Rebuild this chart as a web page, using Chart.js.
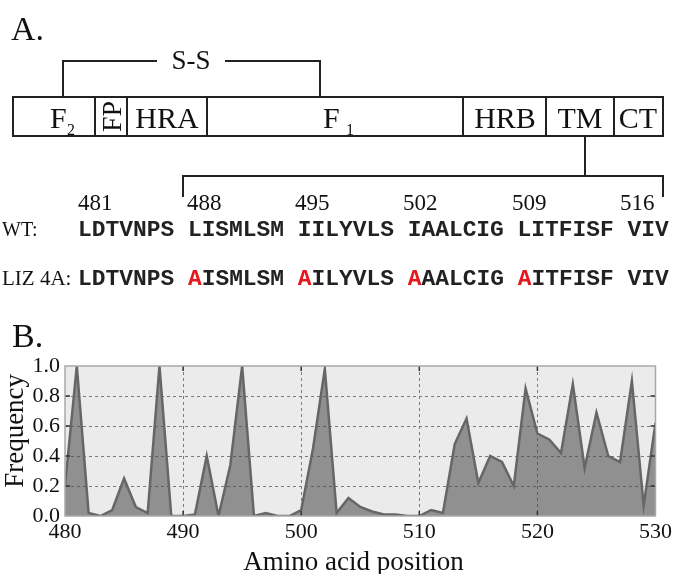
<!DOCTYPE html>
<html>
<head>
<meta charset="utf-8">
<script src="https://cdn.jsdelivr.net/npm/chart.js@4.4.1/dist/chart.umd.min.js"></script>
<style>
  html, body { margin: 0; padding: 0; background: #fff; }
  #wrap { position: relative; width: 675px; height: 574px; overflow: hidden; }
  #freqChart { position: absolute; left: 0; top: 300px; }
  #diagram { position: absolute; left: 0; top: 0; pointer-events: none; }
  .serif { font-family: "Liberation Serif", "Times New Roman", serif; }
  .mono { font-family: "Liberation Mono", "Courier New", monospace; font-weight: bold; white-space: pre; }
</style>
</head>
<body>
<div id="wrap">
  <canvas id="freqChart" width="675" height="274"></canvas>

  <!-- panel A: domain map + sequence -->
  <svg id="diagram" width="675" height="574" viewBox="0 0 675 574">
    <g class="serif" fill="#111">
      <text x="11" y="40" font-size="34">A.</text>
      <text x="12" y="347" font-size="34">B.</text>
      <text x="191" y="69" font-size="27" text-anchor="middle">S-S</text>
      <text x="50" y="128" font-size="30">F</text>
      <text x="67" y="135" font-size="16">2</text>
      <text transform="translate(121,116.5) rotate(-90)" font-size="28" text-anchor="middle">FP</text>
      <text x="167" y="128" font-size="30" text-anchor="middle">HRA</text>
      <text x="323" y="128" font-size="30">F</text>
      <text x="346" y="135" font-size="16">1</text>
      <text x="505" y="128" font-size="30" text-anchor="middle">HRB</text>
      <text x="580" y="128" font-size="30" text-anchor="middle">TM</text>
      <text x="638" y="128" font-size="30" text-anchor="middle">CT</text>
      <text x="78" y="210" font-size="23">481</text>
      <text x="187" y="210" font-size="23">488</text>
      <text x="295" y="210" font-size="23">495</text>
      <text x="403" y="210" font-size="23">502</text>
      <text x="512" y="210" font-size="23">509</text>
      <text x="620" y="210" font-size="23">516</text>
      <text x="2" y="236" font-size="20">WT:</text>
      <text x="2" y="285" font-size="21">LIZ 4A:</text>
    </g>
    <g fill="none" stroke="#222" stroke-width="2">
      <path d="M63,97V61H157M225,61H320V97"/>
      <rect x="13" y="97" width="650" height="39"/>
      <path d="M95,97V136M127,97V136M207,97V136M463,97V136M546,97V136M614,97V136"/>
      <path d="M585,136V176M183,197V176H663V197"/>
    </g>
    <g class="mono" font-size="22.9" fill="#222">
      <text x="78" y="236">LDTVNPS LISMLSM IILYVLS IAALCIG LITFISF VIV</text>
      <text x="78" y="285">LDTVNPS <tspan fill="#e3191f">A</tspan>ISMLSM <tspan fill="#e3191f">A</tspan>ILYVLS <tspan fill="#e3191f">A</tspan>AALCIG <tspan fill="#e3191f">A</tspan>ITFISF VIV</text>
    </g>
  </svg>
</div>

<script>
// amino acid positions and mutation frequency (panel B)
const positions = [480, 481, 482, 483, 484, 485, 486, 487, 488, 489,
                   490, 491, 492, 493, 494, 495, 496, 497, 498, 499,
                   500, 501, 502, 503, 504, 505, 506, 507, 508, 509,
                   510, 511, 512, 513, 514, 515, 516, 517, 518, 519,
                   520, 521, 522, 523, 524, 525, 526, 527, 528, 529, 530];
const frequency = [0.2, 1.0, 0.02, 0.0, 0.04, 0.25, 0.06, 0.02, 1.0, 0.0,
                   0.0, 0.01, 0.4, 0.0, 0.34, 1.0, 0.0, 0.02, 0.0, 0.0,
                   0.04, 0.45, 0.98, 0.02, 0.12, 0.06, 0.03, 0.01, 0.01, 0.0,
                   0.0, 0.04, 0.02, 0.48, 0.65, 0.22, 0.40, 0.36, 0.2, 0.85,
                   0.55, 0.51, 0.42, 0.88, 0.32, 0.69, 0.40, 0.36, 0.9, 0.07, 0.62];
const xTicks = [480, 490, 500, 510, 520, 530];
const yTicks = [0.0, 0.2, 0.4, 0.6, 0.8, 1.0];

const serif = '"Liberation Serif", "Times New Roman", serif';

// grey plot background, frame and inward tick marks
const plotFrame = {
  id: "plotFrame",
  beforeDraw(chart) {
    const { ctx, chartArea: a } = chart;
    ctx.save();
    ctx.fillStyle = "#ebebeb";
    ctx.fillRect(a.left, a.top, a.right - a.left, a.bottom - a.top);
    ctx.restore();
  },
  afterDatasetsDraw(chart) {
    const { ctx, chartArea: a, scales } = chart;
    ctx.save();
    ctx.strokeStyle = "#333";
    ctx.lineWidth = 1.5;
    ctx.beginPath();
    xTicks.forEach((v) => {
      const px = scales.x.getPixelForValue(v);
      if (px <= a.left + 1 || px >= a.right - 1) return;
      ctx.moveTo(px, a.bottom); ctx.lineTo(px, a.bottom - 5);
      ctx.moveTo(px, a.top); ctx.lineTo(px, a.top + 5);
    });
    yTicks.forEach((v) => {
      const py = scales.y.getPixelForValue(v);
      if (py <= a.top + 1 || py >= a.bottom - 1) return;
      ctx.moveTo(a.left, py); ctx.lineTo(a.left + 5, py);
      ctx.moveTo(a.right, py); ctx.lineTo(a.right - 5, py);
    });
    ctx.stroke();
    ctx.strokeStyle = "#a9a9a9";
    ctx.lineWidth = 1.5;
    ctx.strokeRect(a.left, a.top, a.right - a.left, a.bottom - a.top);
    ctx.restore();
  },
};

const data = {
  datasets: [
    {
      label: "Frequency",
      data: positions.map((p, i) => ({ x: p, y: frequency[i] })),
      borderColor: "#666",
      backgroundColor: "rgba(70, 70, 70, 0.55)",
      borderWidth: 2.5,
      fill: "origin",
      pointRadius: 0,
      tension: 0,
    },
  ],
};

const config = {
  type: "line",
  data,
  plugins: [plotFrame],
  options: {
    responsive: false,
    animation: false,
    layout: { padding: { top: 66, right: 17, left: 0, bottom: 0 } },
    plugins: { legend: { display: false }, tooltip: { enabled: false } },
    scales: {
      x: {
        type: "linear",
        min: 480,
        max: 530,
        afterBuildTicks: (s) => { s.ticks = xTicks.map((v) => ({ value: v })); },
        afterFit: (s) => { s.height = 58; },
        ticks: { color: "#111", padding: 3, maxRotation: 0, font: { family: serif, size: 22 } },
        grid: {
          drawTicks: false,
          color: (c) => (c.tick && (c.tick.value === 480 || c.tick.value === 530) ? "rgba(0,0,0,0)" : "#7a7a7a"),
        },
        border: { display: false, dash: [3, 3] },
        title: {
          display: true,
          text: "Amino acid position\u00a0\u00a0",
          color: "#111",
          padding: 0,
          font: { family: serif, size: 27, lineHeight: 0.8 },
        },
      },
      y: {
        min: 0,
        max: 1,
        afterBuildTicks: (s) => { s.ticks = yTicks.map((v) => ({ value: v })); },
        afterFit: (s) => { s.width = 65; },
        ticks: { color: "#111", padding: 5, callback: (v) => v.toFixed(1), font: { family: serif, size: 22 } },
        grid: {
          drawTicks: false,
          color: (c) => (c.tick && (c.tick.value === 0 || c.tick.value === 1) ? "rgba(0,0,0,0)" : "#7a7a7a"),
        },
        border: { display: false, dash: [3, 3] },
        title: {
          display: true,
          text: "\u00a0\u00a0\u00a0Frequency",
          color: "#111",
          padding: 0,
          font: { family: serif, size: 27 },
        },
      },
    },
  },
};

const freqChart = new Chart(document.getElementById("freqChart"), config);
</script>
</body>
</html>
